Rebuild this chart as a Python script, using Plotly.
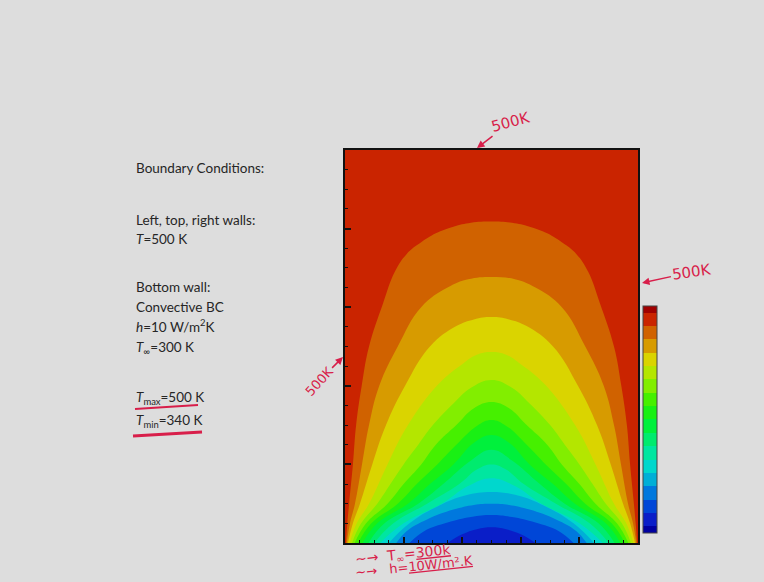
import plotly.graph_objects as go

# ---------------- data ----------------
# isotherm levels (K) and the points of each isotherm, left wall -> apex -> right wall
levels = [350, 360, 370, 380, 390, 400, 410, 420, 430, 440, 450, 460, 470, 480, 490]

iso_350_x = [0.35, 0.40, 0.45, 0.5, 0.55, 0.60, 0.65]
iso_350_y = [0, 0.022, 0.035, 0.04, 0.035, 0.022, 0]

iso_360_x = [0.22, 0.27, 0.35, 0.43, 0.5, 0.57, 0.65, 0.73, 0.78]
iso_360_y = [0, 0.03, 0.052, 0.066, 0.071, 0.066, 0.052, 0.03, 0]

iso_370_x = [0.175, 0.21, 0.28, 0.37, 0.44, 0.5, 0.56, 0.63, 0.72, 0.79, 0.825]
iso_370_y = [0, 0.03, 0.06, 0.085, 0.097, 0.1, 0.097, 0.085, 0.06, 0.03, 0]

iso_380_x = [0.15, 0.22, 0.32, 0.41, 0.5, 0.59, 0.68, 0.78, 0.85]
iso_380_y = [0, 0.05, 0.095, 0.121, 0.13, 0.121, 0.095, 0.05, 0]

iso_390_x = [0.12, 0.2, 0.33, 0.42, 0.5, 0.58, 0.67, 0.80, 0.88]
iso_390_y = [0, 0.05, 0.1, 0.145, 0.165, 0.145, 0.1, 0.05, 0]

iso_400_x = [0.10, 0.165, 0.28, 0.39, 0.45, 0.5, 0.55, 0.61, 0.72, 0.835, 0.90]
iso_400_y = [0, 0.05, 0.1, 0.15, 0.187, 0.2, 0.187, 0.15, 0.1, 0.05, 0]

iso_410_x = [0.08, 0.135, 0.25, 0.335, 0.43, 0.5, 0.57, 0.665, 0.75, 0.865, 0.92]
iso_410_y = [0, 0.05, 0.1, 0.15, 0.21, 0.237, 0.21, 0.15, 0.1, 0.05, 0]

iso_420_x = [0.06, 0.11, 0.215, 0.29, 0.37, 0.44, 0.5, 0.56, 0.63, 0.71, 0.785, 0.89, 0.94]
iso_420_y = [0, 0.05, 0.1, 0.15, 0.2, 0.255, 0.275, 0.255, 0.2, 0.15, 0.1, 0.05, 0]

iso_430_x = [0.045, 0.09, 0.18, 0.245, 0.315, 0.38, 0.45, 0.5, 0.55, 0.62, 0.685, 0.755, 0.82, 0.91, 0.955]
iso_430_y = [0, 0.05, 0.1, 0.15, 0.2, 0.25, 0.298, 0.313, 0.298, 0.25, 0.2, 0.15, 0.1, 0.05, 0]

iso_440_x = [0.033, 0.072, 0.145, 0.2, 0.26, 0.31, 0.38, 0.44, 0.5, 0.56, 0.62, 0.69, 0.74, 0.80, 0.855, 0.928, 0.967]
iso_440_y = [0, 0.05, 0.1, 0.15, 0.2, 0.25, 0.3, 0.343, 0.359, 0.343, 0.3, 0.25, 0.2, 0.15, 0.1, 0.05, 0]

iso_450_x = [0.024, 0.055, 0.11, 0.155, 0.2, 0.25, 0.3, 0.37, 0.43, 0.5, 0.57, 0.63, 0.70, 0.75, 0.80, 0.845, 0.89, 0.945, 0.976]
iso_450_y = [0, 0.05, 0.1, 0.15, 0.2, 0.25, 0.3, 0.355, 0.395, 0.415, 0.395, 0.355, 0.3, 0.25, 0.2, 0.15, 0.1, 0.05, 0]

iso_460_x = [0.016, 0.04, 0.082, 0.145, 0.215, 0.32, 0.40, 0.45, 0.5, 0.55, 0.60, 0.68, 0.785, 0.855, 0.918, 0.96, 0.984]
iso_460_y = [0, 0.05, 0.1, 0.2, 0.3, 0.405, 0.455, 0.479, 0.486, 0.479, 0.455, 0.405, 0.3, 0.2, 0.1, 0.05, 0]

iso_470_x = [0.01, 0.027, 0.051, 0.093, 0.14, 0.205, 0.29, 0.38, 0.44, 0.5, 0.56, 0.62, 0.71, 0.795, 0.86, 0.907, 0.949, 0.973, 0.99]
iso_470_y = [0, 0.05, 0.1, 0.2, 0.3, 0.4, 0.5, 0.552, 0.569, 0.575, 0.569, 0.552, 0.5, 0.4, 0.3, 0.2, 0.1, 0.05, 0]

iso_480_x = [0.006, 0.017, 0.034, 0.058, 0.082, 0.117, 0.18, 0.26, 0.35, 0.42, 0.5, 0.58, 0.65, 0.74, 0.82, 0.883, 0.918, 0.942, 0.966, 0.983, 0.994]
iso_480_y = [0, 0.05, 0.1, 0.2, 0.3, 0.4, 0.5, 0.6, 0.65, 0.671, 0.677, 0.671, 0.65, 0.6, 0.5, 0.4, 0.3, 0.2, 0.1, 0.05, 0]

iso_490_x = [0.003, 0.008, 0.014, 0.027, 0.038, 0.057, 0.082, 0.13, 0.17, 0.21, 0.26, 0.31, 0.37, 0.43, 0.5,
             0.57, 0.63, 0.69, 0.74, 0.79, 0.83, 0.87, 0.918, 0.943, 0.962, 0.973, 0.986, 0.992, 0.997]
iso_490_y = [0, 0.05, 0.1, 0.2, 0.3, 0.4, 0.5, 0.61, 0.69, 0.735, 0.765, 0.788, 0.805, 0.815, 0.818,
             0.815, 0.805, 0.788, 0.765, 0.735, 0.69, 0.61, 0.5, 0.4, 0.3, 0.2, 0.1, 0.05, 0]

# colour of each temperature band: <340, 340-350, ..., 490-500, >500
band_colors = [
    "rgb(0,0,160)", "rgb(10,30,200)", "rgb(0,70,215)", "rgb(0,120,222)",
    "rgb(0,175,215)", "rgb(0,215,205)", "rgb(0,230,160)", "rgb(0,235,110)",
    "rgb(0,240,60)", "rgb(25,240,20)", "rgb(70,240,0)", "rgb(130,238,0)",
    "rgb(180,230,0)", "rgb(218,212,0)", "rgb(215,155,0)", "rgb(208,98,0)",
    "rgb(202,36,0)", "rgb(160,0,0)",
]
band_edges = [340, 350, 360, 370, 380, 390, 400, 410, 420, 430, 440, 450, 460, 470, 480, 490, 500]
t_lo, t_hi = 335, 505

bc_lines = [
    ("Boundary Conditions:", 168),
    ("Left, top, right walls:", 220),
    ("<i>T</i>=500 K", 239),
    ("Bottom wall:", 287),
    ("Convective BC", 307),
    ("<i>h</i>=10 W/m<sup>2</sup>K", 326),
    ("<i>T</i><sub>∞</sub>=300 K", 348),
    ("<i>T</i><sub>max</sub>=500 K", 398),
    ("<i>T</i><sub>min</sub>=340 K", 421),
]

isotherms = {
    350: (iso_350_x, iso_350_y), 360: (iso_360_x, iso_360_y), 370: (iso_370_x, iso_370_y),
    380: (iso_380_x, iso_380_y), 390: (iso_390_x, iso_390_y), 400: (iso_400_x, iso_400_y),
    410: (iso_410_x, iso_410_y), 420: (iso_420_x, iso_420_y), 430: (iso_430_x, iso_430_y),
    440: (iso_440_x, iso_440_y), 450: (iso_450_x, iso_450_y), 460: (iso_460_x, iso_460_y),
    470: (iso_470_x, iso_470_y), 480: (iso_480_x, iso_480_y), 490: (iso_490_x, iso_490_y),
}

# ---------------- geometry helpers ----------------
W, H = 764, 582
L, R, TOP, BOT = 345, 638, 150, 543


def px(x):
    return (x - L) / (R - L)


def py(y):
    return (BOT - y) / (BOT - TOP)


def band_index(t):
    return band_edges.index(t)  # band just below level t


fig = go.Figure()

# nested filled regions, outermost (warmest) first
for lev in sorted(levels, reverse=True):
    xs, ys = isotherms[lev]
    fig.add_trace(go.Scatter(
        x=xs, y=ys, mode="lines", fill="toself",
        fillcolor=band_colors[band_index(lev)],
        line=dict(width=0, shape="spline", smoothing=1.2,
                  color=band_colors[band_index(lev)]),
        hoverinfo="skip", showlegend=False,
    ))

# discrete colour legend
span = t_hi - t_lo
stepscale = []
bounds = [t_lo] + band_edges + [t_hi]
for i, c in enumerate(band_colors):
    stepscale.append([(bounds[i] - t_lo) / span, c])
    stepscale.append([(bounds[i + 1] - t_lo) / span, c])

fig.add_trace(go.Scatter(
    x=[None], y=[None], mode="markers",
    marker=dict(
        color=[400], cmin=t_lo, cmax=t_hi, colorscale=stepscale, showscale=True,
        colorbar=dict(
            x=px(643), xanchor="left", xpad=0, ypad=0,
            y=py(419.5), yanchor="middle",
            thickness=14, thicknessmode="pixels",
            len=227, lenmode="pixels",
            showticklabels=False, ticks="",
            outlinewidth=1, outlinecolor="#444444",
        ),
    ),
    hoverinfo="skip", showlegend=False,
))

red = "#d81e4a"
annotations = []
for txt, yy in bc_lines:
    annotations.append(dict(
        x=px(134), y=py(yy), xref="paper", yref="paper",
        xanchor="left", yanchor="middle", showarrow=False,
        text=txt, font=dict(family="Lato", size=13.5, color="#262626"),
    ))

hand = dict(family="DejaVu Sans", size=15, color=red)
annotations += [
    dict(x=px(477), y=py(148), xref="paper", yref="paper", text="500K",
         showarrow=True, ax=34, ay=-26, arrowcolor=red, arrowhead=2,
         arrowwidth=1.5, textangle=-15, font=hand),
    dict(x=px(642), y=py(283), xref="paper", yref="paper", text="500K",
         showarrow=True, ax=50, ay=-11, arrowcolor=red, arrowhead=2,
         arrowwidth=1.5, textangle=-8, font=hand),
    dict(x=px(343), y=py(357), xref="paper", yref="paper", text="500K",
         showarrow=True, ax=-24, ay=24, arrowcolor=red, arrowhead=2,
         arrowwidth=1.5, textangle=-48, font=dict(family="DejaVu Sans", size=13, color=red)),
    dict(x=px(352), y=py(555), xref="paper", yref="paper",
         text="~→  T<sub>∞</sub>=<u>300k</u>", showarrow=False,
         xanchor="left", yanchor="middle", textangle=-6,
         font=dict(family="DejaVu Sans", size=14, color=red)),
    dict(x=px(352), y=py(566), xref="paper", yref="paper",
         text="~→   h=<u>10W/m².K</u>", showarrow=False,
         xanchor="left", yanchor="middle", textangle=-6,
         font=dict(family="DejaVu Sans", size=13, color=red)),
]

shapes = [
    dict(type="line", xref="paper", yref="paper",
         x0=px(135), x1=px(198), y0=py(409), y1=py(405),
         line=dict(color=red, width=2)),
    dict(type="line", xref="paper", yref="paper",
         x0=px(133), x1=px(202), y0=py(436), y1=py(432),
         line=dict(color=red, width=3)),
]

axis_common = dict(
    range=[0, 1], showgrid=False, zeroline=False, showticklabels=False,
    showline=True, mirror=True, linecolor="#111111", linewidth=2,
    ticks="inside", ticklen=6, tickwidth=1.5, tickcolor="#111111",
    dtick=0.2, tick0=0,
    minor=dict(ticks="inside", ticklen=3, dtick=0.05, tickcolor="#111111",
               tickwidth=1, showgrid=False),
)

fig.update_layout(
    width=W, height=H,
    margin=dict(l=L, r=W - R, t=TOP, b=H - BOT, pad=0),
    paper_bgcolor="#dddddd", plot_bgcolor=band_colors[band_index(500)],
    xaxis=axis_common, yaxis=axis_common,
    annotations=annotations, shapes=shapes,
    showlegend=False,
)

fig.write_html("out.html",
               config={"displayModeBar": False},
               post_script="document.body.style.margin='0';document.body.style.background='#dddddd';")
